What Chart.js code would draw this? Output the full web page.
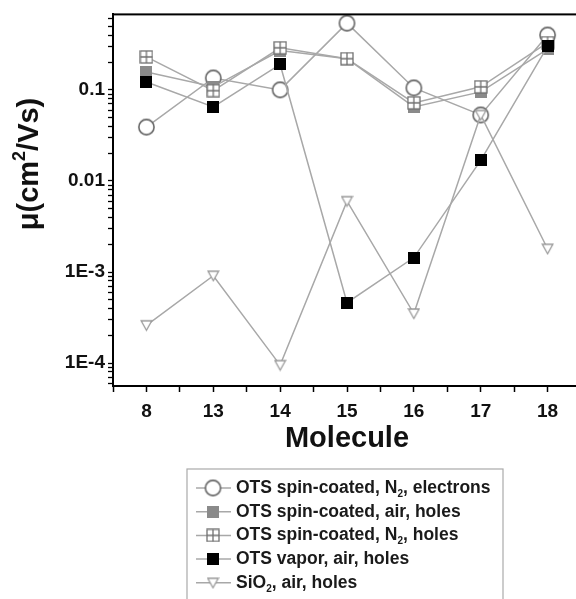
<!DOCTYPE html>
<html>
<head>
<meta charset="utf-8">
<script src="https://cdn.jsdelivr.net/npm/chart.js@4.4.1/dist/chart.umd.min.js"></script>
<style>
  html, body { margin: 0; padding: 0; background: #fff; overflow: hidden; }
  #wrap { width: 620px; height: 599px; }
</style>
</head>
<body>
<div id="wrap"><canvas id="chart" width="620" height="599"></canvas></div>
<script>
/* ── Data ── */
const molecules = ['8', '13', '14', '15', '16', '17', '18'];
const spinN2Electrons = [0.039, 0.135, 0.10, 0.54, 0.105, 0.053, 0.40];
const spinAirHoles    = [0.157, 0.108, 0.27, 0.22, 0.065, 0.095, 0.28];
const spinN2Holes     = [0.23, 0.098, 0.29, 0.22, 0.072, 0.108, 0.33];
const vaporAirHoles   = [0.122, 0.065, 0.19, 4.6e-4, 1.44e-3, 0.0168, 0.30];
const sio2AirHoles    = [2.6e-4, 9.1e-4, 9.5e-5, 6.0e-3, 3.5e-4, 0.053, 1.8e-3];
const yTickValues = [1e-4, 1e-3, 0.01, 0.1];
const yTickLabels = ['1E-4', '1E-3', '0.01', '0.1'];

const FONT = "'Liberation Sans', Arial, sans-serif";
const LINE = '#a8a8a8';

/* ── Marker images ── */
function marker(size, draw) {
  const c = document.createElement('canvas');
  c.width = c.height = size;
  draw(c.getContext('2d'), size);
  return c;
}
const circleMk = marker(19, (g, s) => {
  g.beginPath(); g.arc(s / 2, s / 2, 7.6, 0, Math.PI * 2);
  g.fillStyle = '#fff'; g.fill();
  g.lineWidth = 1.6; g.strokeStyle = '#666'; g.stroke();
});
const greySqMk = marker(12, (g, s) => {
  g.fillStyle = '#8a8a8a'; g.fillRect(0, 0, s, s);
});
const crossSqMk = marker(14, (g, s) => {
  g.fillStyle = '#fff'; g.fillRect(1, 1, s - 2, s - 2);
  g.strokeStyle = '#707070'; g.lineWidth = 1.3;
  g.strokeRect(1, 1, s - 2, s - 2);
  g.beginPath();
  g.moveTo(s / 2, 1); g.lineTo(s / 2, s - 1);
  g.moveTo(1, s / 2); g.lineTo(s - 1, s / 2);
  g.stroke();
});
const blackSqMk = marker(12, (g, s) => {
  g.fillStyle = '#000'; g.fillRect(0, 0, s, s);
});
const triMk = marker(13, (g, s) => {
  g.beginPath();
  g.moveTo(1.2, 2); g.lineTo(s - 1.2, 2); g.lineTo(s / 2, s - 1.5); g.closePath();
  g.fillStyle = '#fff'; g.fill();
  g.strokeStyle = '#999'; g.lineWidth = 1.3; g.stroke();
});

function series(values, mk, order) {
  return {
    data: values.map((v, i) => ({ x: i, y: v })),
    borderColor: LINE,
    borderWidth: 1.5,
    pointStyle: mk,
    pointRadius: 7,
    fill: false,
    tension: 0,
    order: order
  };
}

/* ── Legend entries (text, subscript flag) ── */
const legendItems = [
  { mk: circleMk,  parts: [['OTS spin-coated, N', 0], ['2', 1], [', electrons', 0]] },
  { mk: greySqMk,  parts: [['OTS spin-coated, air, holes', 0]] },
  { mk: crossSqMk, parts: [['OTS spin-coated, N', 0], ['2', 1], [', holes', 0]] },
  { mk: blackSqMk, parts: [['OTS vapor, air, holes', 0]] },
  { mk: triMk,     parts: [['SiO', 0], ['2', 1], [', air, holes', 0]] }
];

const decor = {
  id: 'decor',
  afterDraw(chart) {
    const { ctx, chartArea: a } = chart;
    ctx.save();
    // plot frame
    ctx.strokeStyle = '#000'; ctx.lineWidth = 2;
    ctx.strokeRect(a.left, a.top, a.right - a.left, a.bottom - a.top);

    // y title with superscript
    ctx.translate(30, 164);
    ctx.rotate(-Math.PI / 2);
    ctx.fillStyle = '#111';
    ctx.textBaseline = 'middle';
    const big = 'bold 29px ' + FONT, small = 'bold 18px ' + FONT;
    const segs = [['μ(cm', big, 0], ['2', small, -10], ['/Vs)', big, 0]];
    let w = 0;
    segs.forEach(s => { ctx.font = s[1]; w += ctx.measureText(s[0]).width; });
    let x = -w / 2;
    segs.forEach(s => { ctx.font = s[1]; ctx.fillText(s[0], x, s[2]); x += ctx.measureText(s[0]).width; });
    ctx.setTransform(1, 0, 0, 1, 0, 0);

    // legend box
    ctx.strokeStyle = '#aaa'; ctx.lineWidth = 1.2;
    ctx.strokeRect(187, 469, 316, 200);
    legendItems.forEach((it, i) => {
      const y = 488 + i * 23.7;
      ctx.strokeStyle = LINE; ctx.lineWidth = 1.5;
      ctx.beginPath(); ctx.moveTo(196, y); ctx.lineTo(231, y); ctx.stroke();
      ctx.drawImage(it.mk, 213 - it.mk.width / 2, y - it.mk.height / 2);
      let tx = 236;
      ctx.fillStyle = '#1a1a1a';
      ctx.textBaseline = 'middle';
      it.parts.forEach(p => {
        ctx.font = p[1] ? 'bold 10px ' + FONT : 'bold 17.5px ' + FONT;
        ctx.fillText(p[0], tx, y + (p[1] ? 6 : 0));
        tx += ctx.measureText(p[0]).width;
      });
    });
    ctx.restore();
  }
};

new Chart(document.getElementById('chart').getContext('2d'), {
  type: 'line',
  data: {
    datasets: [
      series(spinN2Electrons, circleMk, 5),
      series(spinAirHoles, greySqMk, 4),
      series(spinN2Holes, crossSqMk, 3),
      series(sio2AirHoles, triMk, 2),
      series(vaporAirHoles, blackSqMk, 1)
    ]
  },
  options: {
    responsive: false,
    animation: false,
    layout: { padding: { top: 12, right: 39, bottom: 139, left: 0 } },
    plugins: { legend: { display: false }, tooltip: { enabled: false } },
    scales: {
      x: {
        type: 'linear',
        min: -0.5, max: 6.5,
        afterFit: s => { s.height = 74; },
        afterBuildTicks: s => {
          const t = [];
          for (let i = 0; i <= 13; i++) t.push({ value: -0.5 + i * 0.5 });
          s.ticks = t;
        },
        ticks: {
          autoSkip: false, maxRotation: 0, padding: 8,
          color: '#111',
          font: { family: FONT, size: 19, weight: 'bold' },
          callback: v => Number.isInteger(v) ? molecules[v] : ''
        },
        grid: { drawOnChartArea: false, tickLength: 6, tickColor: '#000', tickWidth: 1.5 },
        border: { color: '#000', width: 2 },
        title: { display: true, text: 'Molecule', color: '#111', font: { family: FONT, size: 29, weight: 'bold' } }
      },
      y: {
        type: 'logarithmic',
        min: 5.6e-5, max: 0.674,
        afterFit: s => { s.width = 113; },
        afterBuildTicks: s => {
          const t = [];
          for (let e = -5; e <= 0; e++) {
            for (let m = 1; m <= 9; m++) {
              const v = m * Math.pow(10, e);
              if (v >= s.min && v <= s.max) t.push({ value: v, major: m === 1 });
            }
          }
          s.ticks = t;
        },
        ticks: {
          autoSkip: false, padding: 3,
          color: '#111',
          font: { family: FONT, size: 19, weight: 'bold' },
          callback: v => {
            const i = yTickValues.findIndex(t => Math.abs(t - v) / t < 1e-6);
            return i >= 0 ? yTickLabels[i] : '';
          }
        },
        grid: { drawOnChartArea: false, tickLength: 5, tickColor: '#000', tickWidth: 1.3 },
        border: { color: '#000', width: 2 }
      }
    }
  },
  plugins: [decor]
});
</script>
</body>
</html>
